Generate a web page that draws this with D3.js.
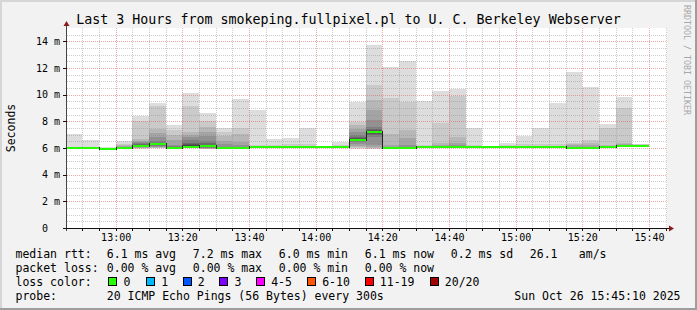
<!DOCTYPE html>
<html><head><meta charset="utf-8">
<script src="https://cdn.jsdelivr.net/npm/d3@7"></script>
<style>
html,body{margin:0;padding:0;background:#f2f2f2;}
svg{display:block;}
text{font-family:"DejaVu Sans Mono",monospace;white-space:pre;}
</style></head><body>
<svg id="c" width="697" height="310"></svg>
<script>
// ---------------- data ----------------
const title = "Last 3 Hours from smokeping.fullpixel.pl to U. C. Berkeley Webserver";
const yLabel = "Seconds";
const watermark = "RRDTOOL / TOBI OETIKER";
const timeStart = "2025-10-26 12:45:24";
const timeEnd = "2025-10-26 15:45:24";
const stepMinutes = 5;
const stepStarts = ["12:45","12:50","12:55","13:00","13:05","13:10","13:15","13:20","13:25","13:30",
  "13:35","13:40","13:45","13:50","13:55","14:00","14:05","14:10","14:15","14:20",
  "14:25","14:30","14:35","14:40","14:45","14:50","14:55","15:00","15:05","15:10",
  "15:15","15:20","15:25","15:30","15:35"];
const medianRtt = [6.00,6.00,5.95,6.00,6.15,6.28,6.02,6.10,6.12,5.98,
  5.98,6.05,6.05,6.05,6.05,6.05,6.05,6.62,7.22,5.98,
  5.98,6.05,6.05,6.08,6.05,6.05,6.05,6.05,6.05,6.05,
  5.98,5.98,6.05,6.15,6.15];
const lossCount = [0,0,0,0,0,0,0,0,0,0, 0,0,0,0,0,0,0,0,0,0, 0,0,0,0,0,0,0,0,0,0, 0,0,0,0,0];
// 20 sorted ping times (ms) per 5-minute step
const pings = [
 [5.97,5.98,5.98,5.99,5.99,6.00,6.00,6.00,6.00,6.00,6.00,6.00,6.01,6.01,6.02,6.03,6.04,6.06,6.10,7.05],
 [5.97,5.98,5.98,5.99,5.99,6.00,6.00,6.00,6.00,6.00,6.00,6.00,6.01,6.01,6.02,6.03,6.04,6.06,6.10,6.60],
 [5.88,5.90,5.91,5.92,5.93,5.93,5.94,5.94,5.95,5.95,5.95,5.96,5.96,5.97,5.97,5.98,5.99,6.00,6.02,6.05],
 [5.97,5.98,5.98,5.99,5.99,6.00,6.00,6.00,6.00,6.00,6.00,6.01,6.02,6.03,6.05,6.08,6.12,6.20,6.28,6.53],
 [5.95,5.98,6.00,6.02,6.05,6.08,6.10,6.12,6.14,6.15,6.16,6.20,6.25,6.28,6.35,6.42,6.50,6.65,8.00,8.40],
 [5.98,6.00,6.02,6.05,6.10,6.15,6.20,6.24,6.26,6.28,6.29,6.32,6.36,6.40,6.50,6.85,7.10,7.40,9.15,9.40],
 [5.96,5.97,5.98,5.99,6.00,6.00,6.01,6.01,6.02,6.02,6.02,6.03,6.05,6.08,6.12,6.20,6.60,7.00,7.35,7.72],
 [5.98,6.00,6.02,6.04,6.06,6.08,6.09,6.10,6.10,6.10,6.12,6.20,6.30,6.40,6.60,6.80,6.97,7.22,9.15,10.15],
 [5.90,5.92,5.95,5.98,6.00,6.03,6.06,6.09,6.11,6.12,6.13,6.18,6.25,6.35,6.55,6.90,7.22,7.55,8.05,8.65],
 [5.90,5.92,5.93,5.94,5.95,5.96,5.96,5.97,5.97,5.98,5.98,5.99,6.00,6.02,6.10,6.30,6.53,6.90,7.20,7.52],
 [5.92,5.93,5.94,5.95,5.96,5.96,5.97,5.97,5.98,5.98,5.98,5.99,6.00,6.02,6.05,6.20,6.47,7.05,7.47,9.67],
 [6.00,6.01,6.02,6.02,6.03,6.03,6.04,6.04,6.05,6.05,6.05,6.05,6.06,6.06,6.07,6.08,6.10,6.15,6.22,8.85],
 [6.00,6.01,6.02,6.02,6.03,6.03,6.04,6.04,6.05,6.05,6.05,6.05,6.06,6.06,6.07,6.08,6.10,6.15,6.25,6.67],
 [6.00,6.01,6.02,6.02,6.03,6.03,6.04,6.04,6.05,6.05,6.05,6.05,6.06,6.06,6.07,6.08,6.10,6.15,6.30,6.78],
 [6.00,6.01,6.02,6.02,6.03,6.03,6.04,6.04,6.05,6.05,6.05,6.05,6.06,6.06,6.07,6.08,6.10,6.15,6.30,7.52],
 [6.00,6.01,6.02,6.02,6.03,6.03,6.04,6.04,6.05,6.05,6.05,6.05,6.06,6.06,6.07,6.08,6.09,6.10,6.12,6.15],
 [6.00,6.01,6.02,6.02,6.03,6.03,6.04,6.04,6.05,6.05,6.05,6.05,6.06,6.06,6.07,6.08,6.10,6.15,6.25,6.47],
 [5.95,6.00,6.05,6.15,6.30,6.45,6.52,6.56,6.60,6.62,6.63,6.68,6.75,6.85,6.97,7.22,7.42,7.72,7.97,9.47],
 [5.92,5.95,6.00,6.05,6.20,6.85,6.95,7.05,7.15,7.20,7.24,7.30,7.35,7.45,7.60,8.10,8.85,9.60,10.72,13.72],
 [5.90,5.92,5.93,5.94,5.95,5.96,5.97,5.97,5.98,5.98,5.98,5.99,6.00,6.02,6.05,6.10,6.22,7.05,9.72,12.10],
 [5.90,5.92,5.93,5.94,5.95,5.96,5.97,5.97,5.98,5.98,5.98,5.99,6.00,6.02,6.10,6.22,6.72,7.35,9.47,12.52],
 [6.00,6.01,6.02,6.02,6.03,6.03,6.04,6.04,6.05,6.05,6.05,6.05,6.06,6.06,6.07,6.08,6.10,6.15,6.25,9.52],
 [6.00,6.01,6.02,6.02,6.03,6.03,6.04,6.04,6.05,6.05,6.05,6.05,6.06,6.06,6.07,6.10,6.20,6.35,7.85,10.27],
 [6.00,6.02,6.03,6.04,6.05,6.06,6.06,6.07,6.08,6.08,6.08,6.09,6.10,6.12,6.15,6.22,6.40,6.80,9.90,10.40],
 [6.00,6.01,6.02,6.02,6.03,6.03,6.04,6.04,6.05,6.05,6.05,6.05,6.06,6.06,6.07,6.08,6.10,6.15,6.22,7.47],
 [6.00,6.01,6.02,6.02,6.03,6.03,6.04,6.04,6.05,6.05,6.05,6.05,6.06,6.06,6.07,6.07,6.08,6.08,6.09,6.10],
 [6.00,6.01,6.02,6.02,6.03,6.03,6.04,6.04,6.05,6.05,6.05,6.05,6.06,6.06,6.07,6.08,6.10,6.15,6.22,6.40],
 [6.00,6.01,6.02,6.02,6.03,6.03,6.04,6.04,6.05,6.05,6.05,6.05,6.06,6.06,6.07,6.08,6.10,6.15,6.30,6.90],
 [6.00,6.01,6.02,6.02,6.03,6.03,6.04,6.04,6.05,6.05,6.05,6.05,6.06,6.06,6.07,6.08,6.10,6.15,6.30,7.52],
 [6.00,6.01,6.02,6.02,6.03,6.03,6.04,6.04,6.05,6.05,6.05,6.05,6.06,6.06,6.07,6.08,6.10,6.15,6.30,9.40],
 [5.92,5.93,5.94,5.95,5.96,5.96,5.97,5.97,5.98,5.98,5.98,5.99,6.00,6.02,6.05,6.10,6.20,6.30,6.40,11.67],
 [5.92,5.93,5.94,5.95,5.96,5.96,5.97,5.97,5.98,5.98,5.98,5.99,6.00,6.02,6.05,6.10,6.22,6.40,6.60,10.57],
 [6.00,6.01,6.02,6.02,6.03,6.03,6.04,6.04,6.05,6.05,6.05,6.05,6.06,6.06,6.07,6.08,6.10,6.20,7.47,7.80],
 [6.08,6.10,6.11,6.12,6.13,6.13,6.14,6.14,6.15,6.15,6.15,6.16,6.17,6.18,6.20,6.25,6.30,6.40,9.00,9.85],
 [6.08,6.10,6.11,6.12,6.13,6.13,6.14,6.14,6.15,6.15,6.15,6.16,6.17,6.18,6.19,6.20,6.22,6.24,6.27,6.30]
];
const yMax = 15;
const yTickValues = [0,2,4,6,8,10,12,14];
const yTickLabels = ["0","2 m","4 m","6 m","8 m","10 m","12 m","14 m"];
const lossLegendLabels = ["0","1","2","3","4-5","6-10","11-19","20/20"];
const lossLegendColors = ["#26ff00","#00b8ff","#0059ff","#7e00ff","#ff00ff","#ff5500","#ff0000","#a10000"];
const lossBuckets = [0,1,2,3,5,10,19,20];
const rttHead = "median rtt:";
const rttStats = ["6.1 ms avg","7.2 ms max","6.0 ms min","6.1 ms now","0.2 ms sd","26.1","am/s"];
const lossHead = "packet loss:";
const lossStats = ["0.00 % avg","0.00 % max","0.00 % min","0.00 % now"];
const colorHead = "loss color:";
const probeHead = "probe:";
const probeText = "20 ICMP Echo Pings (56 Bytes) every 300s";
const dateText = "Sun Oct 26 15:45:10 2025";

// ---------------- layout ----------------
const W = 697, H = 310;
const L = 67, R = 667, T = 28, B = 228;
const svg = d3.select("#c");
const parseFull = d3.timeParse("%Y-%m-%d %H:%M:%S");
const parseStep = d3.timeParse("%Y-%m-%d %H:%M");
const t0 = parseFull(timeStart), t1 = parseFull(timeEnd);
const x = d3.scaleTime().domain([t0, t1]).range([L, R]);
const y = d3.scaleLinear().domain([0, yMax]).range([B, T]);

// background + 3D frame
svg.append("rect").attr("width", W).attr("height", H).attr("fill", "#f2f2f2");
svg.append("rect").attr("x",0).attr("y",0).attr("width",W).attr("height",2).attr("fill","#d6d6d6");
svg.append("rect").attr("x",0).attr("y",0).attr("width",2).attr("height",H).attr("fill","#d6d6d6");
svg.append("rect").attr("x",0).attr("y",H-2).attr("width",W).attr("height",2).attr("fill","#9e9e9e");
svg.append("rect").attr("x",W-2).attr("y",0).attr("width",2).attr("height",H).attr("fill","#9e9e9e");

// canvas
svg.append("rect").attr("x", L).attr("y", T).attr("width", R - L).attr("height", B - T).attr("fill", "#ffffff");
svg.append("clipPath").attr("id","pc").append("rect").attr("x",L).attr("y",T).attr("width",R-L).attr("height",B-T);

// smoke
const gSmoke = svg.append("g").attr("clip-path","url(#pc)").attr("shape-rendering","crispEdges");
const steps = stepStarts.map((s, i) => {
  const a = parseStep("2025-10-26 " + s);
  return {i, a, b: d3.timeMinute.offset(a, stepMinutes), p: pings[i], med: medianRtt[i], loss: lossCount[i]};
});
steps.forEach(st => {
  const x0 = Math.round(x(st.a)), x1 = Math.round(x(st.b));
  for (let k = 0; k < 10; k++) {
    const lo = st.p[k], hi = st.p[19 - k];
    const yt = Math.round(y(hi)), yb = Math.round(y(lo));
    if (yb - yt <= 0) continue;
    const v = 221 - 19 * k;
    gSmoke.append("rect").attr("x", x0).attr("y", yt).attr("width", x1 - x0).attr("height", yb - yt)
      .attr("fill", `rgb(${v},${v},${v})`);
  }
});

// grid
const gGrid = svg.append("g").attr("shape-rendering","crispEdges");
const minorY = d3.range(0.5, yMax, 0.5).filter(v => Math.abs(v % 2) > 1e-9);
gGrid.selectAll(".hm").data(minorY).join("line")
  .attr("x1", L).attr("x2", R).attr("y1", d => Math.round(y(d)) + 0.5).attr("y2", d => Math.round(y(d)) + 0.5)
  .attr("stroke", "rgba(143,143,143,0.45)").attr("stroke-dasharray", "1,1");
const minorX = x.ticks(d3.timeMinute.every(5)).filter(d => d.getMinutes() % 20 !== 0);
gGrid.selectAll(".vm").data(minorX).join("line")
  .attr("y1", T).attr("y2", B).attr("x1", d => Math.round(x(d)) + 0.5).attr("x2", d => Math.round(x(d)) + 0.5)
  .attr("stroke", "rgba(143,143,143,0.45)").attr("stroke-dasharray", "1,1");
const majorY = yTickValues.filter(v => v > 0);
gGrid.selectAll(".hM").data(majorY).join("line")
  .attr("x1", L).attr("x2", R).attr("y1", d => Math.round(y(d)) + 0.5).attr("y2", d => Math.round(y(d)) + 0.5)
  .attr("stroke", "rgba(222,81,81,0.5)").attr("stroke-dasharray", "1,1");
const majorX = x.ticks(d3.timeMinute.every(20));
gGrid.selectAll(".vM").data(majorX).join("line")
  .attr("y1", T).attr("y2", B).attr("x1", d => Math.round(x(d)) + 0.5).attr("x2", d => Math.round(x(d)) + 0.5)
  .attr("stroke", "rgba(222,81,81,0.5)").attr("stroke-dasharray", "1,1");

// median line
const lossColor = n => lossLegendColors[lossBuckets.findIndex(b => n <= b)];
const gMed = svg.append("g").attr("clip-path","url(#pc)").attr("shape-rendering","crispEdges");
steps.forEach((st, i) => {
  const x0 = Math.round(x(st.a)), x1 = Math.round(x(st.b));
  const ym = Math.round(y(st.med));
  gMed.append("rect").attr("x", x0).attr("y", ym - 1).attr("width", x1 - x0).attr("height", 2)
    .attr("fill", lossColor(st.loss));
  if (i > 0) {
    const yp = Math.round(y(steps[i - 1].med));
    if (yp !== ym) {
      gMed.append("rect").attr("x", x0 - 0.5).attr("y", Math.min(yp, ym) - 1).attr("width", 1)
        .attr("height", Math.abs(yp - ym) + 2).attr("fill", "#202020");
    }
  }
});

// axes
const gAx = svg.append("g").attr("shape-rendering","crispEdges");
gAx.append("line").attr("x1", L - 2).attr("x2", R + 3).attr("y1", B + 0.5).attr("y2", B + 0.5).attr("stroke", "#111");
gAx.append("line").attr("x1", L - 0.5).attr("x2", L - 0.5).attr("y1", B + 3).attr("y2", T - 3).attr("stroke", "#444");
// y ticks
gAx.selectAll(".yt").data(yTickValues).join("line")
  .attr("x1", L - 4).attr("x2", L).attr("y1", d => Math.round(y(d)) + 0.5).attr("y2", d => Math.round(y(d)) + 0.5)
  .attr("stroke", "#111");
// x ticks (every 5 minutes)
gAx.selectAll(".xt").data(x.ticks(d3.timeMinute.every(5))).join("line")
  .attr("y1", B).attr("y2", B + 3).attr("x1", d => Math.round(x(d)) + 0.5).attr("x2", d => Math.round(x(d)) + 0.5)
  .attr("stroke", "#111");
// arrows
svg.append("path").attr("d", `M${L - 3.5},${T - 2} L${L + 2.5},${T - 2} L${L - 0.5},${T - 7} Z`).attr("fill", "#8b1c1c");
svg.append("path").attr("d", `M${R + 2},${B - 2.5} L${R + 2},${B + 3.5} L${R + 7},${B + 0.5} Z`).attr("fill", "#8b1c1c");

// tick labels
const fmt = d3.timeFormat("%H:%M");
svg.selectAll(".xl").data(majorX).join("text")
  .attr("x", d => x(d) + 0.5).attr("y", 241).attr("text-anchor", "middle")
  .attr("font-size", "10px").attr("fill", "#000").text(d => fmt(d));
svg.selectAll(".yl").data(yTickValues).join("text")
  .attr("x", (d, i) => yTickLabels[i].length === 1 ? 60 - 12 : 60)
  .attr("y", d => y(d) + 3.5).attr("text-anchor", "end")
  .attr("font-size", "10px").attr("fill", "#000").text((d, i) => yTickLabels[i]);

// title, y label, watermark
svg.append("text").attr("x", 348.5).attr("y", 24).attr("text-anchor", "middle")
  .attr("font-size", "13.3px").attr("fill", "#000").text(title);
svg.append("text").attr("transform", `translate(15,${(T + B) / 2}) rotate(-90)`).attr("text-anchor", "middle")
  .attr("font-size", "11.5px").attr("fill", "#000").text(yLabel);
svg.append("text").attr("transform", "translate(684,60) rotate(90)").attr("text-anchor", "middle")
  .attr("font-size", "8.3px").attr("fill", "#a8a8a8").text(watermark);

// legend
const lg = svg.append("g").attr("font-size", "11.5px").attr("fill", "#000");
const colX = [106.8, 192.8, 278.8, 364.8, 450.8, 529.8, 578.8];
lg.append("text").attr("x", 15.5).attr("y", 258).text(rttHead);
rttStats.forEach((s, i) => lg.append("text").attr("x", colX[i]).attr("y", 258).text(s));
lg.append("text").attr("x", 15.5).attr("y", 272).text(lossHead);
lossStats.forEach((s, i) => lg.append("text").attr("x", colX[i]).attr("y", 272).text(s));
lg.append("text").attr("x", 15.5).attr("y", 286).text(colorHead);
const boxX = [108.3, 145.7, 182.7, 219.3, 256, 307.3, 365.3, 429.7];
const lblX = [123.5, 161.2, 197.8, 234.5, 271.2, 322.2, 379.8, 444.8];
lossLegendLabels.forEach((s, i) => {
  svg.append("rect").attr("x", Math.round(boxX[i]) + 0.5).attr("y", 277.5).attr("width", 8).attr("height", 8)
    .attr("fill", lossLegendColors[i]).attr("stroke", "#000").attr("stroke-width", 1);
  lg.append("text").attr("x", lblX[i]).attr("y", 286).text(s);
});
lg.append("text").attr("x", 15.5).attr("y", 300).text(probeHead);
lg.append("text").attr("x", 106.8).attr("y", 300).text(probeText);
lg.append("text").attr("x", 680.5).attr("y", 300).attr("text-anchor", "end").text(dateText);
</script>
</body></html>
